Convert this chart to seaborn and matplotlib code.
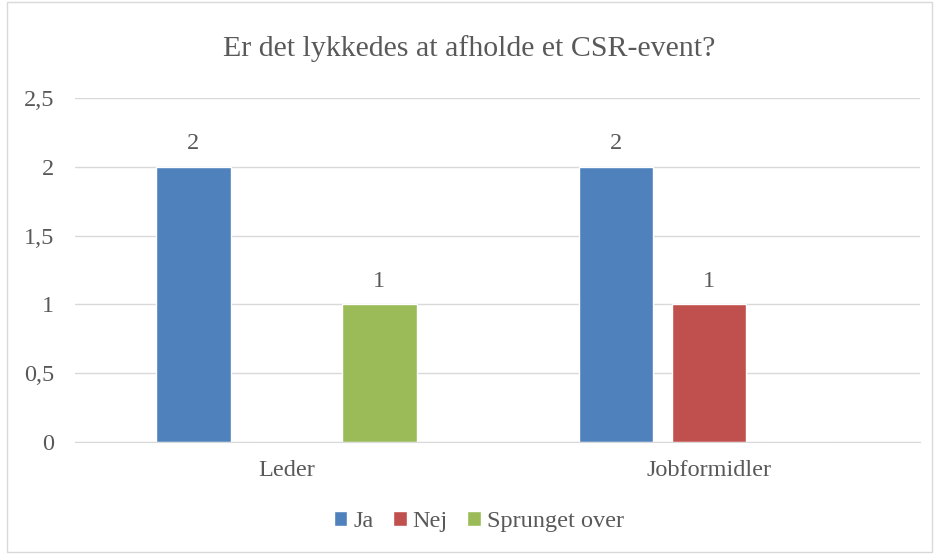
import pandas as pd
import seaborn as sns
import matplotlib.pyplot as plt
from matplotlib.patches import Rectangle

# data
grupper = ['Leder', 'Jobformidler']
svar = ['Ja', 'Nej', 'Sprunget over']
ja = [2, 2]
nej = [0, 1]
sprunget = [1, 0]
farver = ['#4F81BD', '#C0504D', '#9BBB59']

df = pd.DataFrame({
    'Gruppe': grupper * 3,
    'Svar': [s for s in svar for _ in grupper],
    'Antal': ja + nej + sprunget,
})

sns.set_style('white')
plt.rcParams['font.family'] = ['Liberation Serif', 'DejaVu Serif']
tekst = '#595959'
fs = 17.5

fig = plt.figure(figsize=(9.39, 5.54), dpi=100)
ax = fig.add_axes([0.08, 0.202, 0.9, 0.621])

sns.barplot(data=df, x='Gruppe', y='Antal', hue='Svar', order=grupper,
            hue_order=svar, palette=farver, width=0.66, gap=0.2,
            saturation=1, ax=ax, legend=True)

for c in ax.containers:
    labels = [f'{v:g}' if v > 0 else '' for v in c.datavalues]
    ax.bar_label(c, labels=labels, padding=9, fontsize=fs, color=tekst)

ax.set_xlim(-0.5, 1.5)
ax.set_ylim(0, 2.5)
ax.set_yticks([0, 0.5, 1, 1.5, 2, 2.5])
ax.set_yticklabels(['0', '0,5', '1', '1,5', '2', '2,5'])
ax.yaxis.grid(True, color='#D9D9D9', linewidth=1)
ax.set_axisbelow(True)
ax.tick_params(axis='both', length=0, labelsize=fs, labelcolor=tekst)
ax.tick_params(axis='y', pad=15)
ax.tick_params(axis='x', pad=13)
ax.set_xlabel('')
ax.set_ylabel('')
for s in ['left', 'right', 'top']:
    ax.spines[s].set_visible(False)
ax.spines['bottom'].set_color('#D9D9D9')

ax.legend_.remove()
fig.legend(*ax.get_legend_handles_labels(), loc='center', bbox_to_anchor=(0.51, 0.058),
           ncol=3, frameon=False, fontsize=fs, labelcolor=tekst,
           handlelength=0.55, handleheight=0.55, handletextpad=0.25, columnspacing=0.8)

fig.text(0.5, 0.913, 'Er det lykkedes at afholde et CSR-event?', ha='center',
         va='center', fontsize=21.5, color=tekst)

fig.patches.append(Rectangle((0.007, 0.004), 0.986, 0.992, transform=fig.transFigure,
                             fill=False, edgecolor='#D9D9D9', linewidth=1))

fig.savefig('out.png', dpi=100)
